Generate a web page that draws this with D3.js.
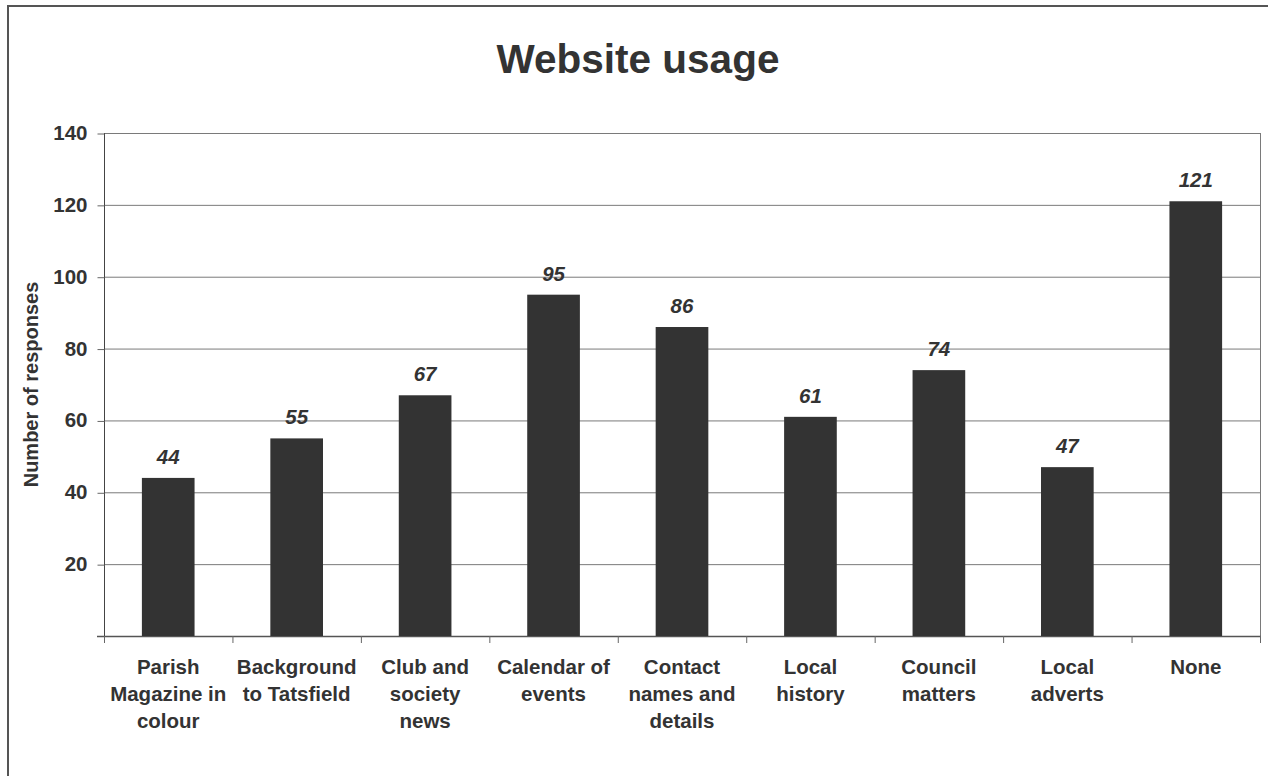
<!DOCTYPE html>
<html>
<head>
<meta charset="utf-8">
<script src="https://cdn.jsdelivr.net/npm/d3@7"></script>
<style>
  html, body { margin: 0; padding: 0; background: #fff; }
  svg { display: block; }
  text { font-family: Arial, "Liberation Sans", Helvetica, sans-serif; fill: #333; }
</style>
</head>
<body>
<svg id="chart" width="1268" height="776"></svg>
<script>
// Survey: which parts of the website people use
const categories = [
  ["Parish", "Magazine in", "colour"],
  ["Background", "to Tatsfield"],
  ["Club and", "society", "news"],
  ["Calendar of", "events"],
  ["Contact", "names and", "details"],
  ["Local", "history"],
  ["Council", "matters"],
  ["Local", "adverts"],
  ["None"]
];
const responses = [44, 55, 67, 95, 86, 61, 74, 47, 121];
const yTicks = [20, 40, 60, 80, 100, 120, 140];
const chartTitle = "Website usage";
const yAxisTitle = "Number of responses";

const svg = d3.select("#chart");
const W = 1268, H = 776;
const plot = { left: 104, right: 1260, top: 133, bottom: 636 };
const FS = 20.5;

// outer frame (runs off the right and bottom edges)
svg.append("rect")
  .attr("x", 8).attr("y", 6)
  .attr("width", W).attr("height", H)
  .attr("fill", "none").attr("stroke", "#555").attr("stroke-width", 2);

const keys = categories.map((c, i) => i);
const x = d3.scaleBand().domain(keys).range([plot.left, plot.right]).paddingInner(0).paddingOuter(0);
const y = d3.scaleLinear().domain([0, 140]).range([plot.bottom, plot.top]);

// horizontal gridlines
svg.append("g").selectAll("line").data(yTicks).join("line")
  .attr("x1", plot.left).attr("x2", plot.right)
  .attr("y1", d => y(d) + 0.5).attr("y2", d => y(d) + 0.5)
  .attr("stroke", "#7a7a7a").attr("stroke-width", 1);

// right edge of plot area
svg.append("line")
  .attr("x1", plot.right + 0.5).attr("x2", plot.right + 0.5)
  .attr("y1", plot.top).attr("y2", plot.bottom)
  .attr("stroke", "#7a7a7a").attr("stroke-width", 1);

// y axis
const yAxis = d3.axisLeft(y).tickValues(yTicks).tickSize(7).tickPadding(10);
const gy = svg.append("g").attr("transform", `translate(${plot.left + 0.5},0)`).call(yAxis);
gy.select(".domain").attr("stroke", "#444").attr("d", `M0,${plot.top}V${plot.bottom + 0.5}`);
gy.selectAll(".tick line").attr("stroke", "#666").attr("transform", "translate(0,0.5)");
gy.selectAll(".tick text")
  .attr("font-size", FS).attr("font-weight", "bold").attr("fill", "#333")
  .attr("font-family", "Arial, 'Liberation Sans', sans-serif");

// x axis (ticks on category boundaries)
svg.append("line")
  .attr("x1", plot.left - 7).attr("x2", plot.right + 1)
  .attr("y1", plot.bottom + 0.5).attr("y2", plot.bottom + 0.5)
  .attr("stroke", "#555").attr("stroke-width", 1.5);
const bounds = keys.map(k => x(k)).concat([plot.right]);
svg.append("g").selectAll("line").data(bounds).join("line")
  .attr("x1", d => d + 0.5).attr("x2", d => d + 0.5)
  .attr("y1", plot.bottom).attr("y2", plot.bottom + 7)
  .attr("stroke", "#666");

// bars
const barW = x.bandwidth() * 0.41;
svg.append("g").selectAll("rect").data(responses).join("rect")
  .attr("x", (d, i) => x(i) + (x.bandwidth() - barW) / 2)
  .attr("y", d => y(d))
  .attr("width", barW)
  .attr("height", d => y(0) - y(d))
  .attr("fill", "#333333");

// value labels
svg.append("g").selectAll("text").data(responses).join("text")
  .attr("x", (d, i) => x(i) + x.bandwidth() / 2)
  .attr("y", d => y(d) - 14)
  .attr("text-anchor", "middle")
  .attr("font-size", FS).attr("font-weight", "bold").attr("font-style", "italic")
  .text(d => d);

// category labels
const catG = svg.append("g").selectAll("text").data(categories).join("text")
  .attr("x", (d, i) => x(i) + x.bandwidth() / 2)
  .attr("y", plot.bottom + 38)
  .attr("text-anchor", "middle")
  .attr("font-size", FS).attr("font-weight", "bold");
catG.selectAll("tspan").data(d => d).join("tspan")
  .attr("x", function () { return d3.select(this.parentNode).attr("x"); })
  .attr("dy", (d, j) => j === 0 ? 0 : 27)
  .text(d => d);

// title
svg.append("text")
  .attr("x", 638)
  .attr("y", 73)
  .attr("text-anchor", "middle")
  .attr("font-size", 40.5).attr("font-weight", "bold")
  .text(chartTitle);

// y axis title
svg.append("text")
  .attr("transform", `translate(38,${(plot.top + plot.bottom) / 2}) rotate(-90)`)
  .attr("text-anchor", "middle")
  .attr("font-size", 20).attr("font-weight", "bold")
  .text(yAxisTitle);
</script>
</body>
</html>
